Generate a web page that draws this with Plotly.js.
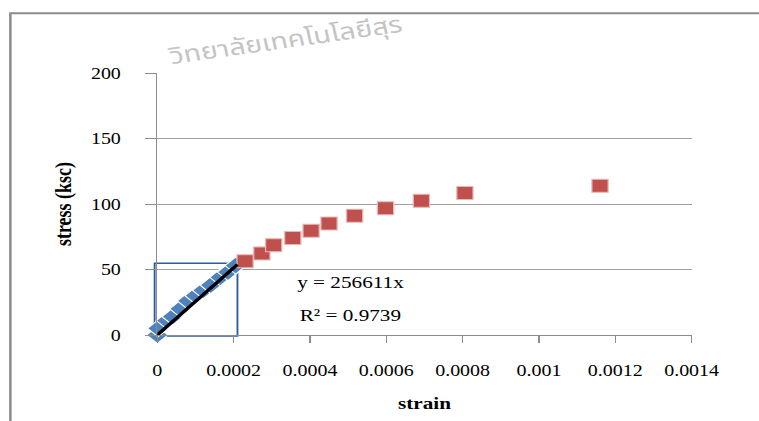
<!DOCTYPE html>
<html>
<head>
<meta charset="utf-8">
<script src="https://cdn.plot.ly/plotly-3.0.1.min.js"></script>
<style>
  html, body { margin: 0; padding: 0; background: #fff; overflow: hidden; }
  #plot { width: 608px; height: 421px; transform: scaleX(1.2484); transform-origin: 0 0; }
</style>
</head>
<body>
<div id="plot"></div>
<script>
// Elastic (fitted) range points
const blueStrain = [0, 0.000002, 0.000025, 0.00004, 0.00006, 0.00008, 0.0001, 0.00012, 0.00014, 0.000165, 0.000185, 0.000205];
const blueStress = [0, 5, 11, 14, 20, 26, 30, 34, 38, 44, 48, 53];
// Remaining test points
const redStrain = [0.00023, 0.000274, 0.000305, 0.000355, 0.000403, 0.00045, 0.000517, 0.000598, 0.000692, 0.000806, 0.00116];
const redStress = [56.3, 62.3, 68.6, 74.1, 79.6, 85.1, 91.1, 96.7, 102.4, 108.4, 113.9];
// Linear trend through origin
const slope = 256611;
const trendStrain = [0, 0.00021];
const trendStress = trendStrain.map(v => slope * v);
const xTickVals = [0, 0.0002, 0.0004, 0.0006, 0.0008, 0.001, 0.0012, 0.0014];
const xTickText = ['0', '0.0002', '0.0004', '0.0006', '0.0008', '0.001', '0.0012', '0.0014'];
const yTickVals = [0, 50, 100, 150, 200];
const xRange = [0, 0.0014];
const yRange = [0, 200];
// highlighted box around the fitted region (data units)
const boxStrain = [-0.000007, 0.00021];
const boxStress = [-0.75, 54.8];
const watermark = 'วิทยาลัยเทคโนโลยีสุร';

const serif = 'Liberation Serif, Times New Roman, serif';
const px = v => (v - xRange[0]) / (xRange[1] - xRange[0]);
const py = v => (v - yRange[0]) / (yRange[1] - yRange[0]);

const traces = [
  {
    x: blueStrain, y: blueStress, type: 'scatter', mode: 'markers', cliponaxis: false,
    marker: { symbol: 'diamond', size: 13, color: '#4F81BD', line: { color: '#ffffff', width: 1 } },
    showlegend: false
  },
  {
    x: redStrain, y: redStress, type: 'scatter', mode: 'markers', cliponaxis: false,
    marker: { symbol: 'square', size: 13, color: '#C0504D', line: { color: '#E6B9B8', width: 1 } },
    showlegend: false
  },
  {
    x: trendStrain, y: trendStress, type: 'scatter', mode: 'lines',
    line: { color: '#000000', width: 3 }, showlegend: false
  }
];

const layout = {
  width: 608, height: 421,
  margin: { l: 125.8, r: 53.9, t: 72.7, b: 82, pad: 0 },
  paper_bgcolor: '#ffffff', plot_bgcolor: '#ffffff',
  font: { family: serif, size: 16, color: '#000000' },
  xaxis: {
    range: xRange, tickvals: xTickVals, ticktext: xTickText,
    showgrid: false, zeroline: false, showline: true, linecolor: '#8c8c8c', linewidth: 1,
    ticks: 'outside', ticklen: 7, tickcolor: '#8c8c8c', ticklabelstandoff: 14,
    tickfont: { family: serif, size: 16, color: '#000' },
    title: { text: 'strain', font: { family: serif, size: 17, weight: 'bold', color: '#000' }, standoff: 18 },
    automargin: true
  },
  yaxis: {
    range: yRange, tickvals: yTickVals,
    showgrid: true, gridcolor: '#a0a0a0', gridwidth: 1, zeroline: false,
    showline: true, linecolor: '#8c8c8c', linewidth: 1,
    ticks: 'outside', ticklen: 9, tickcolor: '#8c8c8c', ticklabelstandoff: 16,
    tickfont: { family: serif, size: 16, color: '#000' },
    title: { text: 'stress (ksc)', font: { family: serif, size: 18, weight: 'bold', color: '#000' }, standoff: 10 },
    automargin: true
  },
  shapes: [
    { type: 'rect', xref: 'paper', yref: 'paper', layer: 'below',
      x0: px(boxStrain[0]), x1: px(boxStrain[1]), y0: py(boxStress[0]), y1: py(boxStress[1]),
      line: { color: '#2F5D9B', width: 1.5 } },
    { type: 'rect', xref: 'paper', yref: 'paper', layer: 'above',
      x0: -0.275, x1: 1.6, y0: -0.6, y1: 1.228,
      line: { color: '#8c8c8c', width: 2 } }
  ],
  annotations: [
    { x: 0.000507, y: 39.8, xref: 'x', yref: 'y', text: 'y = 256611x', showarrow: false,
      font: { family: serif, size: 17, color: '#000' } },
    { x: 0.000505, y: 15, xref: 'x', yref: 'y', text: 'R² = 0.9739', showarrow: false,
      font: { family: serif, size: 17, color: '#000' } },
    { x: 0.24, y: 1.123, xref: 'paper', yref: 'paper', xanchor: 'center', yanchor: 'middle',
      text: watermark, showarrow: false, textangle: -10,
      font: { family: 'Noto Sans Thai, Noto Sans Thai UI, Sawasdee, Loma, sans-serif', size: 23, color: '#c4c4c4' } }
  ]
};

Plotly.newPlot('plot', traces, layout, { displayModeBar: false, staticPlot: true });
</script>
</body>
</html>
